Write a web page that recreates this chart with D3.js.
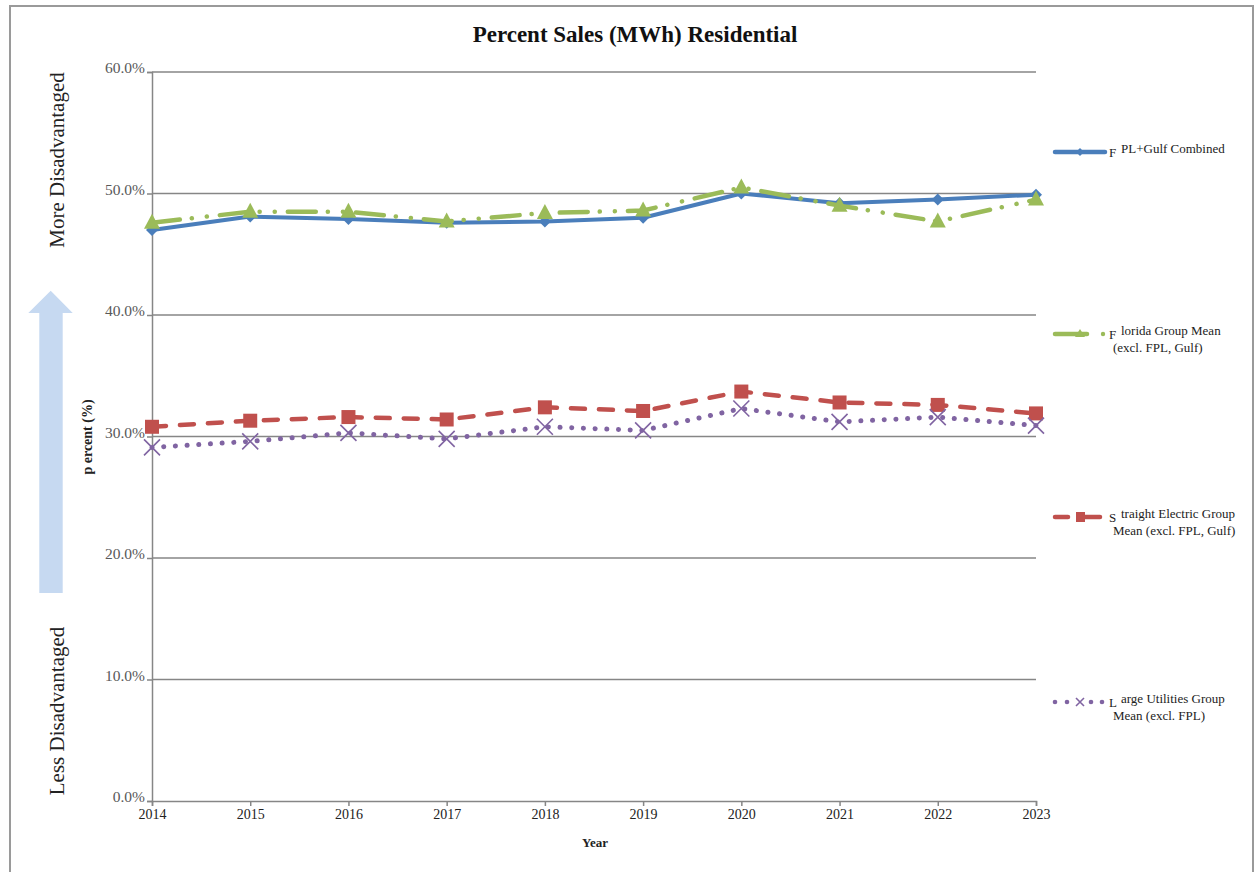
<!DOCTYPE html>
<html><head><meta charset="utf-8">
<script src="https://cdn.jsdelivr.net/npm/d3@7"></script>
<style>body{margin:0;background:#fff}svg{display:block}</style>
</head><body>
<svg id="c" width="1257" height="872"></svg>
<script>
const years = [2014,2015,2016,2017,2018,2019,2020,2021,2022,2023];
const fplGulf = [47.0,48.1,47.9,47.6,47.7,48.0,50.0,49.2,49.5,49.9];
const floridaMean = [47.6,48.5,48.5,47.7,48.4,48.6,50.5,49.0,47.7,49.5];
const straightElectric = [30.8,31.3,31.6,31.4,32.4,32.1,33.7,32.8,32.6,31.9];
const largeUtilities = [29.1,29.6,30.3,29.8,30.8,30.5,32.3,31.2,31.6,30.9];
const yTicks = [0,10,20,30,40,50,60];
const seriesNames = [
  ["F","PL+Gulf Combined",""],
  ["F","lorida Group Mean","(excl. FPL, Gulf)"],
  ["S","traight Electric Group","Mean (excl. FPL, Gulf)"],
  ["L","arge Utilities Group","Mean (excl. FPL)"]
];

const svg = d3.select("#c");
const serif = "'Liberation Serif','DejaVu Serif',serif";
const x = d3.scaleLinear().domain([2014,2023]).range([152,1036]);
const y = d3.scaleLinear().domain([0,60]).range([801,72]);

svg.append("rect").attr("x",10).attr("y",6).attr("width",1243).attr("height",880)
  .attr("fill","none").attr("stroke","#9a9a9a").attr("stroke-width",2);

svg.append("text").attr("x",635).attr("y",42).attr("text-anchor","middle")
  .attr("font-family",serif).attr("font-weight","bold").attr("font-size",23)
  .attr("fill","#111").text("Percent Sales (MWh) Residential");

const yAxis = d3.axisLeft(y).tickValues(yTicks).tickSize(5).tickFormat(d=>d.toFixed(1)+"%");
const gy = svg.append("g").attr("transform","translate(152,0)").call(yAxis);
gy.select(".domain").attr("stroke","#868686").attr("stroke-width",1.5);
gy.selectAll(".tick line").attr("stroke","#868686").attr("stroke-width",1.5);
gy.selectAll(".tick text").attr("font-family",serif).attr("font-size",15.5).attr("fill","#595959").attr("x",-7).attr("dy","0.05em");
svg.append("g").selectAll("line").data(yTicks.filter(d=>d>0)).join("line")
  .attr("x1",152).attr("x2",1036).attr("y1",d=>y(d)).attr("y2",d=>y(d))
  .attr("stroke","#868686").attr("stroke-width",1.5);

const xAxis = d3.axisBottom(x).tickValues(years).tickSize(5).tickFormat(d3.format("d"));
const gx = svg.append("g").attr("transform","translate(0,801)").call(xAxis);
gx.select(".domain").attr("stroke","#868686").attr("stroke-width",1.5);
gx.selectAll(".tick line").attr("stroke","#868686").attr("stroke-width",1.5);
gx.selectAll(".tick text").attr("font-family",serif).attr("font-size",14).attr("fill","#222").attr("y",8);

svg.append("text").attr("x",595).attr("y",847).attr("text-anchor","middle")
  .attr("font-family",serif).attr("font-weight","bold").attr("font-size",13).attr("fill","#222")
  .text("Year");

svg.append("text").attr("transform","translate(92,437) rotate(-90)").attr("text-anchor","middle")
  .attr("font-family",serif).attr("font-weight","bold").attr("font-size",14).attr("fill","#222")
  .text("p ercent (%)");

svg.append("path").attr("d","M39.3,593 L39.3,313 L28.3,313 L50.7,290.7 L72.7,313 L62.7,313 L62.7,593 Z")
  .attr("fill","#c6d9f1");
svg.append("text").attr("transform","translate(64,160) rotate(-90)").attr("text-anchor","middle")
  .attr("font-family",serif).attr("font-size",21).attr("fill","#222").text("More Disadvantaged");
svg.append("text").attr("transform","translate(64,711) rotate(-90)").attr("text-anchor","middle")
  .attr("font-family",serif).attr("font-size",21).attr("fill","#222").text("Less Disadvantaged");

const series = [
  {data:fplGulf, color:"#4a7ebb", dash:null, w:4, marker:"diamond"},
  {data:floridaMean, color:"#9bbb59", dash:"28 12 0.1 15 0.1 13", w:4.5, marker:"triangle"},
  {data:straightElectric, color:"#c0504d", dash:"14 14", w:4.5, marker:"square"},
  {data:largeUtilities, color:"#8064a2", dash:"0.1 11.6", w:5, marker:"x"}
];
const line = d3.line().x((d,i)=>x(years[i])).y(d=>y(d));

function drawMarker(g, type, cx, cy, color){
  if(type==="diamond"){
    g.append("path").attr("d",`M${cx},${cy-6} L${cx+6},${cy} L${cx},${cy+6} L${cx-6},${cy} Z`).attr("fill",color);
  } else if(type==="triangle"){
    g.append("path").attr("d",`M${cx},${cy-9} L${cx+8},${cy+6} L${cx-8},${cy+6} Z`).attr("fill",color);
  } else if(type==="square"){
    g.append("rect").attr("x",cx-7).attr("y",cy-7).attr("width",14).attr("height",14).attr("fill",color);
  } else {
    g.append("path").attr("d",`M${cx-8},${cy-8} L${cx+8},${cy+8} M${cx-8},${cy+8} L${cx+8},${cy-8}`)
      .attr("stroke",color).attr("stroke-width",1.6).attr("fill","none");
  }
}

series.forEach(s=>{
  const g = svg.append("g");
  const p = g.append("path").datum(s.data).attr("d",line).attr("fill","none")
    .attr("stroke",s.color).attr("stroke-width",s.w).attr("stroke-linecap","round").attr("stroke-linejoin","round");
  if(s.dash) p.attr("stroke-dasharray",s.dash);
  s.data.forEach((v,i)=>drawMarker(g,s.marker,x(years[i]),y(v),s.color));
});

const legY = [152,334,517,702];
series.forEach((s,i)=>{
  const g = svg.append("g");
  const ly = legY[i];
  if(i===0){
    g.append("line").attr("x1",1055).attr("x2",1105).attr("y1",ly).attr("y2",ly)
      .attr("stroke",s.color).attr("stroke-width",4.5).attr("stroke-linecap","round");
  } else if(i===1){
    g.append("line").attr("x1",1055).attr("x2",1087).attr("y1",ly).attr("y2",ly)
      .attr("stroke",s.color).attr("stroke-width",4.5).attr("stroke-linecap","round");
    g.append("circle").attr("cx",1103).attr("cy",ly).attr("r",2.2).attr("fill",s.color);
  } else if(i===2){
    g.append("line").attr("x1",1055).attr("x2",1068).attr("y1",ly).attr("y2",ly)
      .attr("stroke",s.color).attr("stroke-width",4.5).attr("stroke-linecap","round");
    g.append("line").attr("x1",1085).attr("x2",1100).attr("y1",ly).attr("y2",ly)
      .attr("stroke",s.color).attr("stroke-width",4.5).attr("stroke-linecap","round");
  } else {
    [1055,1067,1091,1102].forEach(cx=>g.append("circle").attr("cx",cx).attr("cy",ly).attr("r",2.3).attr("fill",s.color));
  }
  if(s.marker==="diamond"){
    g.append("path").attr("d",`M1080,${ly-4} L1084,${ly} L1080,${ly+4} L1076,${ly} Z`).attr("fill",s.color);
  } else if(s.marker==="triangle"){
    g.append("path").attr("d",`M1080,${ly-5} L1085,${ly+3} L1075,${ly+3} Z`).attr("fill",s.color);
  } else if(s.marker==="square"){
    g.append("rect").attr("x",1076).attr("y",ly-5).attr("width",9).attr("height",10).attr("fill",s.color);
  } else {
    g.append("path").attr("d",`M1076,${ly-4} L1084,${ly+4} M1076,${ly+4} L1084,${ly-4}`).attr("stroke",s.color).attr("stroke-width",1.6);
  }
  const t = g.append("text").attr("font-family",serif).attr("font-size",13).attr("fill","#222");
  t.append("tspan").attr("x",1109).attr("y",ly+4.5).text(seriesNames[i][0]);
  t.append("tspan").attr("x",1121).attr("y",ly+1).text(seriesNames[i][1]);
  if(seriesNames[i][2]){
    g.append("text").attr("x",1113).attr("y",ly+18).attr("font-family",serif).attr("font-size",13)
      .attr("fill","#222").text(seriesNames[i][2]);
  }
});
</script>
</body></html>
